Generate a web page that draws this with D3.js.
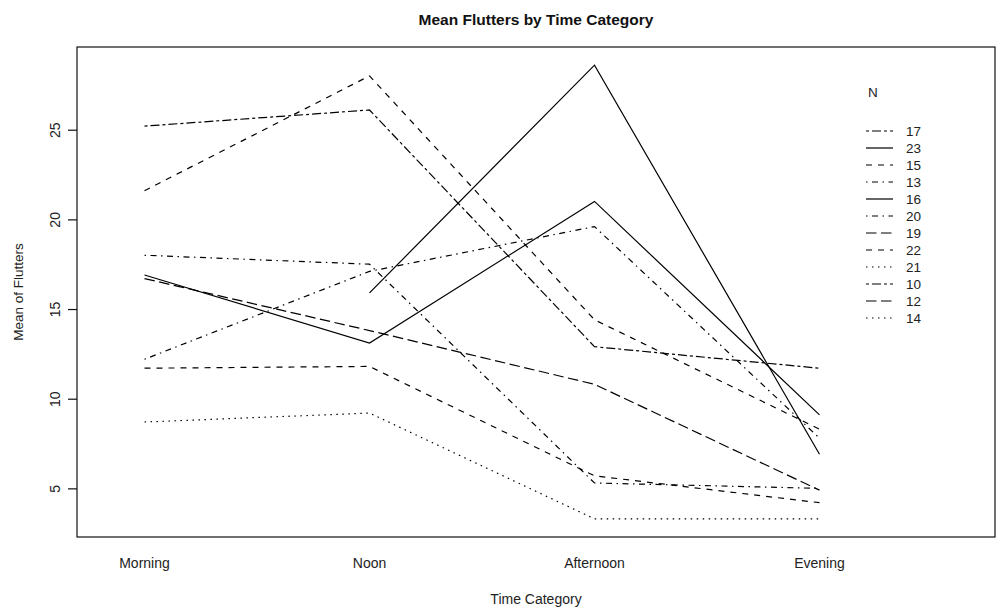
<!DOCTYPE html>
<html>
<head>
<meta charset="utf-8">
<script src="https://cdn.jsdelivr.net/npm/d3@7"></script>
<style>
  body { margin: 0; background: #fff; }
  svg { font-family: "Liberation Sans", Arial, sans-serif; }
</style>
</head>
<body>
<svg width="1008" height="611"></svg>
<script>
// categories on the x axis
const timeCats = ["Morning", "Noon", "Afternoon", "Evening"];
// trace factor levels (N), in factor order
const levels = ["10", "12", "13", "14", "15", "16", "17", "19", "20", "21", "22", "23"];

// mean flutters per level, one value per time category (null = missing)
const n10 = [null, null, null, null];
const n12 = [null, null, null, null];
const n13 = [12.2, 17.1, 19.6, 7.8];
const n14 = [null, null, null, null];
const n15 = [21.6, 28.0, 14.4, 8.3];
const n16 = [null, 15.9, 28.6, 6.9];
const n17 = [25.2, 26.1, 12.9, 11.7];
const n19 = [16.7, 13.8, 10.8, 4.9];
const n20 = [18.0, 17.5, 5.3, 5.0];
const n21 = [8.7, 9.2, 3.3, 3.3];
const n22 = [11.7, 11.8, 5.7, 4.2];
const n23 = [16.9, 13.1, 21.0, 9.1];

const yTicks = [5, 10, 15, 20, 25];

const series = [n10, n12, n13, n14, n15, n16, n17, n19, n20, n21, n22, n23];

const svg = d3.select("svg"),
  plotL = 77, plotR = 995, plotT = 47, plotB = 537;

// R line types, dash lengths scaled the way the device drew them
const ltyDash = ["none", "6,6", "1.5,4.5", "1.5,4.5,6,4.5", "10.5,4.5", "3,3,9,3"];
// interaction.plot default: lty = nlevels:1, recycled over 6 types
const lty = levels.map((l, i) => ltyDash[((levels.length - i) - 1) % 6]);

const allVals = series.flat().filter(v => v != null);
const yMin = d3.min(allVals), yMax = d3.max(allVals);
const pad = (yMax - yMin) * 0.04;

const x = d3.scaleLinear().domain([0.7, 4.78]).range([plotL, plotR]);
const y = d3.scaleLinear().domain([yMin - pad, yMax + pad]).range([plotB, plotT]);

// lines
const line = d3.line()
  .defined(d => d != null)
  .x((d, i) => x(i + 1))
  .y(d => y(d));

svg.append("g")
  .selectAll("path")
  .data(series)
  .enter()
  .append("path")
  .attr("d", line)
  .attr("fill", "none")
  .attr("stroke", "#000")
  .attr("stroke-width", 1.2)
  .attr("stroke-dasharray", (d, i) => lty[i]);

// box
svg.append("rect")
  .attr("x", plotL).attr("y", plotT)
  .attr("width", plotR - plotL).attr("height", plotB - plotT)
  .attr("fill", "none").attr("stroke", "#111").attr("stroke-width", 1.2);

// y axis, labels rotated like R's default las = 0
const yAxis = svg.append("g").attr("transform", "translate(" + plotL + ",0)")
  .call(d3.axisLeft(y).tickValues(yTicks).tickSize(9).tickFormat(d3.format("d")));
yAxis.select(".domain").remove();
yAxis.selectAll("line").attr("stroke", "#111").attr("stroke-width", 1.2);
yAxis.selectAll("text")
  .attr("font-size", 14)
  .attr("fill", "#222")
  .attr("text-anchor", "middle")
  .attr("transform", "rotate(-90)")
  .attr("x", 0)
  .attr("y", -17)
  .attr("dy", null);

// x category labels (no ticks)
svg.append("g")
  .selectAll("text")
  .data(timeCats)
  .enter()
  .append("text")
  .attr("x", (d, i) => x(i + 1))
  .attr("y", 568)
  .attr("text-anchor", "middle")
  .attr("font-size", 14)
  .attr("fill", "#222")
  .text(d => d);

// titles
svg.append("text")
  .attr("x", (plotL + plotR) / 2).attr("y", 25)
  .attr("text-anchor", "middle")
  .attr("font-size", 15.5).attr("font-weight", "bold")
  .attr("fill", "#111")
  .text("Mean Flutters by Time Category");

svg.append("text")
  .attr("x", (plotL + plotR) / 2).attr("y", 604)
  .attr("text-anchor", "middle")
  .attr("font-size", 14).attr("fill", "#222")
  .text("Time Category");

svg.append("text")
  .attr("transform", "translate(23," + ((plotT + plotB) / 2) + ") rotate(-90)")
  .attr("text-anchor", "middle")
  .attr("font-size", 13.5).attr("fill", "#222")
  .text("Mean of Flutters");

// legend, ordered by last-category value, decreasing, missing last
const last = timeCats.length - 1;
const ord = d3.range(levels.length).sort((a, b) => {
  const va = series[a][last], vb = series[b][last];
  if (va == null && vb == null) return a - b;
  if (va == null) return 1;
  if (vb == null) return -1;
  return vb - va;
});

const legend = svg.append("g");
legend.append("text")
  .attr("x", 868).attr("y", 97)
  .attr("font-size", 13.5).attr("fill", "#222")
  .text("N");

const rows = legend.selectAll("g.row")
  .data(ord)
  .enter()
  .append("g")
  .attr("class", "row")
  .attr("transform", (d, i) => "translate(0," + (131 + i * 17.0) + ")");

rows.append("line")
  .attr("x1", 866).attr("x2", 893)
  .attr("stroke", "#000").attr("stroke-width", 1.2)
  .attr("stroke-dasharray", d => lty[d]);

rows.append("text")
  .attr("x", 906).attr("y", 5)
  .attr("font-size", 13.5).attr("fill", "#222")
  .text(d => levels[d]);
</script>
</body>
</html>
